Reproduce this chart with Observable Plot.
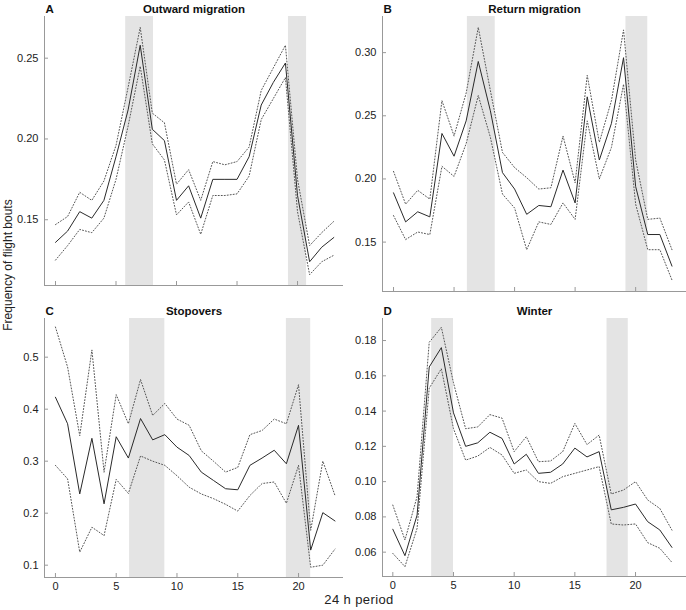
<!DOCTYPE html>
<html>
<head>
<meta charset="utf-8">
<script src="https://cdn.jsdelivr.net/npm/d3@7"></script>
<script src="https://cdn.jsdelivr.net/npm/@observablehq/plot@0.6"></script>
<style>
  html, body { margin: 0; padding: 0; background: #fff; }
  #root { position: relative; width: 686px; height: 610px; background: #fff; font-family: "Liberation Sans", Arial, sans-serif; overflow: hidden; }
  .panel { position: absolute; }
  .ylab { position: absolute; width: 220px; left: -102px; top: 258px; text-align: center; font-size: 12px; color: #222; transform: rotate(-90deg); transform-origin: 50% 50%; line-height: 14px; }
  .xlab { position: absolute; width: 200px; left: 259px; top: 592px; text-align: center; font-size: 13px; color: #222; letter-spacing: 0.4px; line-height: 15px; }
</style>
</head>
<body>
<div id="root">
  <div class="ylab">Frequency of flight bouts</div>
  <div class="xlab">24 h period</div>
</div>
<script>
// ---- data ----
const hours = [0,1,2,3,4,5,6,7,8,9,10,11,12,13,14,15,16,17,18,19,20,21,22,23];
const xTicks = [0,5,10,15,20];

// A: Outward migration
const meanA  = [0.136,0.143,0.155,0.151,0.162,0.189,0.218,0.258,0.206,0.199,0.162,0.171,0.151,0.175,0.175,0.175,0.189,0.221,0.235,0.247,0.165,0.124,0.133,0.139];
const upperA = [0.147,0.152,0.167,0.162,0.174,0.196,0.232,0.269,0.216,0.210,0.172,0.181,0.162,0.186,0.184,0.186,0.195,0.230,0.244,0.258,0.175,0.134,0.142,0.149];
const lowerA = [0.125,0.134,0.144,0.142,0.151,0.175,0.208,0.245,0.197,0.187,0.153,0.161,0.141,0.165,0.165,0.166,0.177,0.212,0.225,0.238,0.155,0.116,0.124,0.128];
const bandsA = [[5.8,8.1],[19.25,20.75]];
const yTicksA = [0.15,0.20,0.25];

// B: Return migration
const meanB  = [0.189,0.166,0.174,0.170,0.236,0.218,0.246,0.293,0.254,0.205,0.192,0.172,0.179,0.178,0.207,0.181,0.265,0.215,0.244,0.296,0.194,0.156,0.156,0.131];
const upperB = [0.206,0.180,0.191,0.184,0.262,0.234,0.268,0.320,0.270,0.221,0.209,0.201,0.192,0.193,0.234,0.197,0.282,0.229,0.262,0.318,0.215,0.168,0.169,0.144];
const lowerB = [0.171,0.152,0.158,0.156,0.210,0.202,0.228,0.266,0.233,0.188,0.177,0.144,0.166,0.164,0.181,0.168,0.246,0.200,0.225,0.275,0.180,0.144,0.144,0.120];
const bandsB = [[6.1,8.4],[19.2,21.0]];
const yTicksB = [0.15,0.20,0.25,0.30];

// C: Stopovers
const meanC  = [0.423,0.372,0.237,0.344,0.218,0.347,0.306,0.382,0.341,0.351,0.327,0.311,0.279,0.263,0.247,0.245,0.292,0.306,0.321,0.295,0.369,0.129,0.201,0.185];
const upperC = [0.558,0.481,0.349,0.514,0.279,0.428,0.372,0.457,0.388,0.411,0.381,0.369,0.320,0.300,0.279,0.288,0.351,0.359,0.381,0.372,0.447,0.167,0.300,0.234];
const lowerC = [0.292,0.266,0.125,0.173,0.157,0.265,0.238,0.310,0.300,0.292,0.272,0.250,0.237,0.228,0.217,0.204,0.234,0.257,0.260,0.219,0.292,0.096,0.100,0.131];
const bandsC = [[6.1,9.0],[19.0,21.0]];
const yTicksC = [0.1,0.2,0.3,0.4,0.5];

// D: Winter
const meanD  = [0.073,0.058,0.081,0.165,0.176,0.139,0.120,0.122,0.128,0.1245,0.110,0.1155,0.1047,0.1053,0.110,0.119,0.114,0.117,0.084,0.0854,0.0873,0.0773,0.0726,0.0627];
const upperD = [0.0867,0.0669,0.0915,0.179,0.1875,0.156,0.130,0.131,0.138,0.136,0.117,0.1255,0.1113,0.1117,0.117,0.133,0.121,0.1264,0.093,0.0952,0.100,0.0896,0.0848,0.0725];
const lowerD = [0.0593,0.0518,0.0735,0.153,0.164,0.130,0.1122,0.1145,0.1194,0.1151,0.1047,0.1066,0.100,0.099,0.1028,0.1047,0.1066,0.1085,0.076,0.0754,0.076,0.0654,0.0622,0.0542];
const bandsD = [[3.2,5.0],[17.65,19.4]];
const yTicksD = [0.06,0.08,0.10,0.12,0.14,0.16,0.18];

// ---- drawing ----
const FONT = "'Liberation Sans', Arial, sans-serif";

function panel(cfg) {
  const rows = hours.map((h, i) => ({h, mean: cfg.mean[i], upper: cfg.upper[i], lower: cfg.lower[i]}));
  const plot = Plot.plot({
    width: cfg.width, height: cfg.height,
    marginLeft: cfg.ml, marginRight: cfg.mr, marginTop: cfg.mt, marginBottom: cfg.mb,
    style: {fontFamily: FONT, fontSize: "11px", background: "transparent", color: "#222", overflow: "visible"},
    x: {domain: cfg.xDomain, label: null},
    y: {domain: cfg.yDomain, label: null},
    marks: [
      Plot.rect(cfg.bands, {x1: d => d[0], x2: d => d[1], fill: "#e4e4e4"}),
      Plot.line(rows, {x: "h", y: "upper", stroke: "#555", strokeWidth: 1, strokeDasharray: "1,2"}),
      Plot.line(rows, {x: "h", y: "lower", stroke: "#555", strokeWidth: 1, strokeDasharray: "1,2"}),
      Plot.line(rows, {x: "h", y: "mean", stroke: "#2a2a2a", strokeWidth: 1}),
      Plot.ruleX([cfg.xDomain[0]], {stroke: "#999", strokeWidth: 1}),
      Plot.ruleY([cfg.yDomain[0]], {stroke: "#999", strokeWidth: 1}),
      Plot.axisY({ticks: cfg.yTicks, tickFormat: cfg.yFmt, tickSize: -4, tickPadding: 10, stroke: "#999", fill: "#222", label: null}),
      Plot.axisX({ticks: xTicks, tickFormat: cfg.showX ? (d => String(d)) : (() => ""), tickSize: -4, tickPadding: 9, stroke: "#999", fill: "#222", label: null}),
      Plot.text([cfg.letter], {frameAnchor: "top-left", textAnchor: "start", lineAnchor: "bottom", dx: 1, dy: -4, fontWeight: "bold", fontSize: 11.5, fill: "#111"}),
      Plot.text([cfg.title], {frameAnchor: "top", textAnchor: "middle", lineAnchor: "bottom", dy: -4, fontWeight: "bold", fontSize: 11.5, fill: "#111"})
    ]
  });
  plot.classList.add("panel");
  plot.style.left = cfg.left + "px";
  plot.style.top = cfg.top + "px";
  plot.style.position = "absolute";
  document.getElementById("root").appendChild(plot);
}

panel({letter: "A", title: "Outward migration", mean: meanA, upper: upperA, lower: lowerA, bands: bandsA,
  yTicks: yTicksA, yFmt: d3.format(".2f"), xDomain: [-0.91, 23.8], yDomain: [0.1093, 0.2758], showX: false,
  left: 0, top: 0, width: 343, height: 300, ml: 44, mr: 0, mt: 16, mb: 15});

panel({letter: "B", title: "Return migration", mean: meanB, upper: upperB, lower: lowerB, bands: bandsB,
  yTicks: yTicksB, yFmt: d3.format(".2f"), xDomain: [-0.91, 24.2], yDomain: [0.1109, 0.3286], showX: false,
  left: 343, top: 0, width: 343, height: 300, ml: 39, mr: 0, mt: 16, mb: 9});

panel({letter: "C", title: "Stopovers", mean: meanC, upper: upperC, lower: lowerC, bands: bandsC,
  yTicks: yTicksC, yFmt: d3.format(".1f"), xDomain: [-0.9, 23.7], yDomain: [0.0763, 0.5744], showX: true,
  left: 0, top: 300, width: 343, height: 310, ml: 44, mr: 0, mt: 18, mb: 33});

panel({letter: "D", title: "Winter", mean: meanD, upper: upperD, lower: lowerD, bands: bandsD,
  yTicks: yTicksD, yFmt: d3.format(".2f"), xDomain: [-0.85, 24.2], yDomain: [0.0462, 0.1925], showX: true,
  left: 343, top: 300, width: 343, height: 310, ml: 39, mr: 0, mt: 18, mb: 34});
</script>
</body>
</html>
